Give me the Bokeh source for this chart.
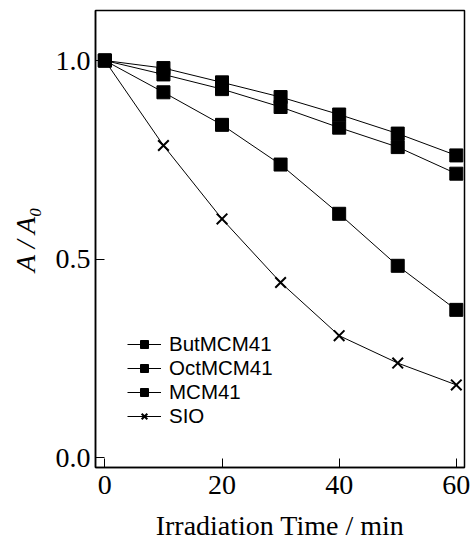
from bokeh.plotting import figure
from bokeh.models import Range1d, FixedTicker, Legend, LegendItem, PrintfTickFormatter
from bokeh.embed import file_html
from bokeh.resources import INLINE

time_min = [0, 10, 20, 30, 40, 50, 60]
but_mcm41 = [1.0, 0.981, 0.945, 0.908, 0.864, 0.816, 0.761]
oct_mcm41 = [1.0, 0.965, 0.928, 0.883, 0.831, 0.782, 0.715]
mcm41 = [1.0, 0.920, 0.838, 0.738, 0.614, 0.483, 0.372]
sio = [1.0, 0.786, 0.601, 0.441, 0.307, 0.238, 0.183]

series_names = ["ButMCM41", "OctMCM41", "MCM41", "SIO"]
series_values = [but_mcm41, oct_mcm41, mcm41, sio]
series_markers = ["square", "square", "square", "x"]

x_ticks = [0, 20, 40, 60]
y_ticks = [0.0, 0.5, 1.0]

p = figure(width=471, height=547, output_backend="svg", toolbar_location=None,
           x_range=Range1d(-1.6, 61.4), y_range=Range1d(-0.025, 1.126),
           min_border_left=95, min_border_right=7, min_border_top=10, min_border_bottom=80)
p.background_fill_color = "white"
p.border_fill_color = "white"
p.outline_line_color = "black"
p.outline_line_width = 1.5
p.xgrid.visible = False
p.ygrid.visible = False

items = []
for name, vals, mk in zip(series_names, series_values, series_markers):
    lr = p.line(time_min, vals, line_color="black", line_width=1)
    if mk == "square":
        sr = p.scatter(time_min, vals, marker="square", size=13, fill_color="black", line_color="black")
    else:
        sr = p.scatter(time_min, vals, marker="x", size=15, line_color="black", line_width=2)
    items.append(LegendItem(label=name, renderers=[lr, sr]))

legend = Legend(items=items, location=(32, 39), background_fill_alpha=0, border_line_alpha=0,
                label_text_font="Liberation Sans", label_text_font_size="20.5px",
                label_text_color="black",
                glyph_width=34, glyph_height=20, label_height=20, spacing=-3, padding=0,
                margin=0, label_standoff=8)
p.add_layout(legend, "center")

for ax in (p.xaxis[0], p.yaxis[0]):
    ax.major_tick_in = 9
    ax.major_tick_out = 0
    ax.minor_tick_line_color = None
    ax.axis_line_color = "black"
    ax.axis_line_width = 1.5
    ax.major_tick_line_width = 1
    ax.major_label_text_font = "Liberation Serif"
    ax.major_label_text_font_size = "28px"
    ax.major_label_text_color = "black"
    ax.axis_label_text_font = "Liberation Serif"
    ax.axis_label_text_font_size = "28px"
    ax.axis_label_text_color = "black"

p.xaxis.ticker = FixedTicker(ticks=x_ticks)
p.yaxis.ticker = FixedTicker(ticks=y_ticks)
p.yaxis.formatter = PrintfTickFormatter(format="%.1f")
p.xaxis.major_label_standoff = 8
p.yaxis.major_label_standoff = 5
p.xaxis.axis_label = "Irradiation Time / min"
p.xaxis.axis_label_text_font_style = "normal"
p.xaxis.axis_label_standoff = 13
p.yaxis.axis_label = "A / A\u2080"
p.yaxis.axis_label_text_font_style = "italic"
p.yaxis.axis_label_standoff = 12

open("out.html", "w").write(file_html(p, INLINE))
